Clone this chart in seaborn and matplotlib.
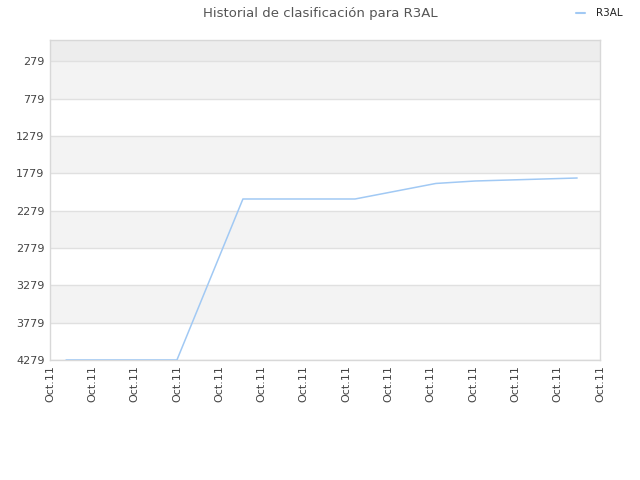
import numpy  as np
import pandas as pd
import seaborn as sns

from matplotlib import pyplot as plt

sns.set_theme(style="white", palette="pastel")
plt.rcParams['font.family'] = ['DejaVu Sans']

# ranking history (position in tick units along the x axis, ranking value)
positions = [0.38, 3.0, 4.56, 7.21, 9.12, 10.05, 12.46]
ranking   = [4279, 4279, 2123, 2123, 1915, 1882, 1842]
series    = 'R3AL'

tick_labels = ['Oct.11'] * 14
y_ticks     = [279, 779, 1279, 1779, 2279, 2779, 3279, 3779, 4279]

data = pd.DataFrame({'x': positions, 'rank': ranking, 'name': series})

fig = plt.figure(figsize=(6.4, 4.8), dpi=100)
ax  = fig.add_axes([50/640, 120/480, 550/640, 320/480])

# alternating bands
y_top = -6
edges = [y_top] + y_ticks
for i in range(len(edges) - 1):
    if i == 0:
        col = '#ededed'
    elif i % 2 == 1:
        col = '#f3f3f3'
    else:
        col = 'white'
    ax.axhspan(edges[i], edges[i+1], color=col, zorder=0, lw=0)
for t in y_ticks:
    ax.axhline(t, color='#e0e0e0', lw=1, zorder=1)

sns.lineplot(data=data, x='x', y='rank', hue='name', palette=['#a1c9f4'],
             lw=1.1, ax=ax, legend=False, zorder=3)

ax.set_xlim(0, 13)
ax.set_ylim(4279, y_top)
ax.set_xticks(np.arange(len(tick_labels)))
ax.set_xticklabels(tick_labels, rotation=90, fontsize=8, color='#444444')
ax.set_yticks(y_ticks)
ax.set_yticklabels([str(v) for v in y_ticks], fontsize=8, color='#444444')
ax.tick_params(length=0, pad=4)
ax.set_xlabel('')
ax.set_ylabel('')
for s in ax.spines.values():
    s.set_color('#d8d8d8')
    s.set_linewidth(1)

fig.text(0.5, 0.972, 'Historial de clasificación para R3AL', ha='center', va='center',
         fontsize=9.5, color='#555555')
fig.lines.append(plt.Line2D([576/640, 585/640], [1-13/480, 1-13/480],
                            transform=fig.transFigure, color='#a1c9f4', lw=1.5))
fig.text(596/640, 1-13/480, series, ha='left', va='center', fontsize=7.5, color='#222222')

fig.savefig('out.png', dpi=100)
